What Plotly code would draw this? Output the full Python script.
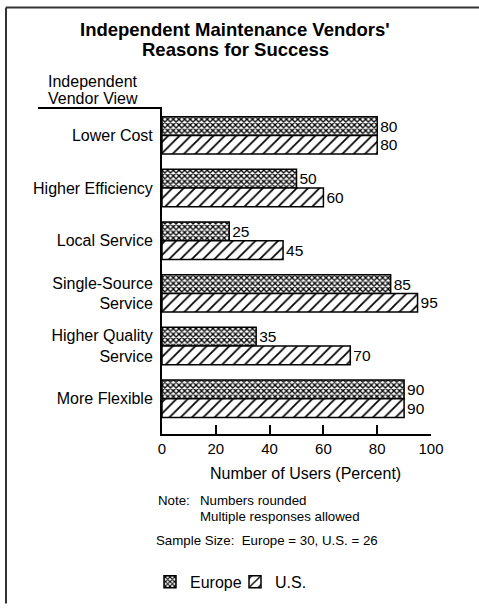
import plotly.graph_objects as go

categories = ["Lower Cost", "Higher Efficiency", "Local Service",
              "Single-Source<br>Service", "Higher Quality<br>Service", "More Flexible"]
europe = [80, 50, 25, 85, 35, 90]
us = [80, 60, 45, 95, 70, 90]
tick_vals = [0, 20, 40, 60, 80, 100]

W, H = 479, 611
L, R, T, B = 162, 431, 108, 439
FONT = "Liberation Sans, Arial, Helvetica, sans-serif"


def px(x):
    return (x - L) / (R - L)


def py(y):
    return (B - y) / (B - T)


fig = go.Figure()
fig.add_trace(go.Bar(
    y=categories, x=europe, orientation="h", name="Europe",
    text=[str(v) for v in europe], textposition="outside",
    textfont=dict(size=15.5, color="black", family=FONT),
    marker=dict(color="white", line=dict(color="black", width=1.5),
                pattern=dict(shape="x", size=4, solidity=0.55, fgopacity=1,
                             fgcolor="black", bgcolor="white")),
    cliponaxis=False,
))
fig.add_trace(go.Bar(
    y=categories, x=us, orientation="h", name="U.S.",
    text=[str(v) for v in us], textposition="outside",
    textfont=dict(size=15.5, color="black", family=FONT),
    marker=dict(color="white", line=dict(color="black", width=1.5),
                pattern=dict(shape="/", size=8, solidity=0.22, fgopacity=1,
                             fgcolor="black", bgcolor="white")),
    cliponaxis=False,
))

annotations = [
    dict(text="<b>Independent Maintenance Vendors'</b>", x=px(235), y=py(28), font=dict(size=18.5)),
    dict(text="<b>Reasons for Success</b>", x=px(235), y=py(49), font=dict(size=18.5)),
    dict(text="Independent", x=px(93), y=py(81), font=dict(size=16)),
    dict(text="Vendor View", x=px(93), y=py(98), font=dict(size=16)),
    dict(text="Number of Users (Percent)", x=px(305), y=py(479), font=dict(size=16)),
    dict(text="Note:", x=px(156), y=py(507), xanchor="left", font=dict(size=13.3)),
    dict(text="Numbers rounded", x=px(198), y=py(507), xanchor="left", font=dict(size=13.3)),
    dict(text="Multiple responses allowed", x=px(198), y=py(523), xanchor="left", font=dict(size=13.3)),
    dict(text="Sample Size:  Europe = 30, U.S. = 26", x=px(154), y=py(547), xanchor="left", font=dict(size=13.3)),
]
for a in annotations:
    a.update(xref="paper", yref="paper", showarrow=False)
    a.setdefault("xanchor", "center")
    a["yanchor"] = "middle"
    a["font"].update(color="black", family=FONT)

shapes = [
    dict(type="line", xref="paper", yref="paper", x0=px(38), x1=0, y0=1, y1=1,
         line=dict(color="black", width=2)),
    dict(type="line", xref="paper", yref="paper", x0=px(6), x1=px(479), y0=py(6), y1=py(6),
         line=dict(color="#333", width=2)),
    dict(type="line", xref="paper", yref="paper", x0=px(6), x1=px(6), y0=py(6), y1=py(611),
         line=dict(color="#333", width=2)),
]

fig.update_layout(
    width=W, height=H,
    margin=dict(l=L, r=W - R, t=T, b=H - B),
    paper_bgcolor="white", plot_bgcolor="white",
    font=dict(family=FONT, color="black", size=15),
    barmode="group", bargap=0.29, bargroupgap=0,
    showlegend=True,
    legend=dict(orientation="h", x=px(150), xanchor="left", y=py(589), yanchor="middle",
                font=dict(size=16), itemwidth=30, tracegroupgap=0,
                entrywidth=40, entrywidthmode="pixels"),
    annotations=annotations, shapes=shapes,
    xaxis=dict(range=[0, 100], tickvals=tick_vals, ticks="inside", ticklen=9,
               tickwidth=1.5, tickcolor="black", showline=True, linecolor="black",
               linewidth=1.5, showgrid=False, zeroline=False,
               tickfont=dict(size=15)),
    yaxis=dict(categoryorder="array", categoryarray=categories,
               range=[5.67, -0.52], showline=True, linecolor="black", linewidth=2,
               showgrid=False, zeroline=False, ticks="", ticklabelstandoff=4,
               tickfont=dict(size=16)),
)

fig.write_html("out.html")
